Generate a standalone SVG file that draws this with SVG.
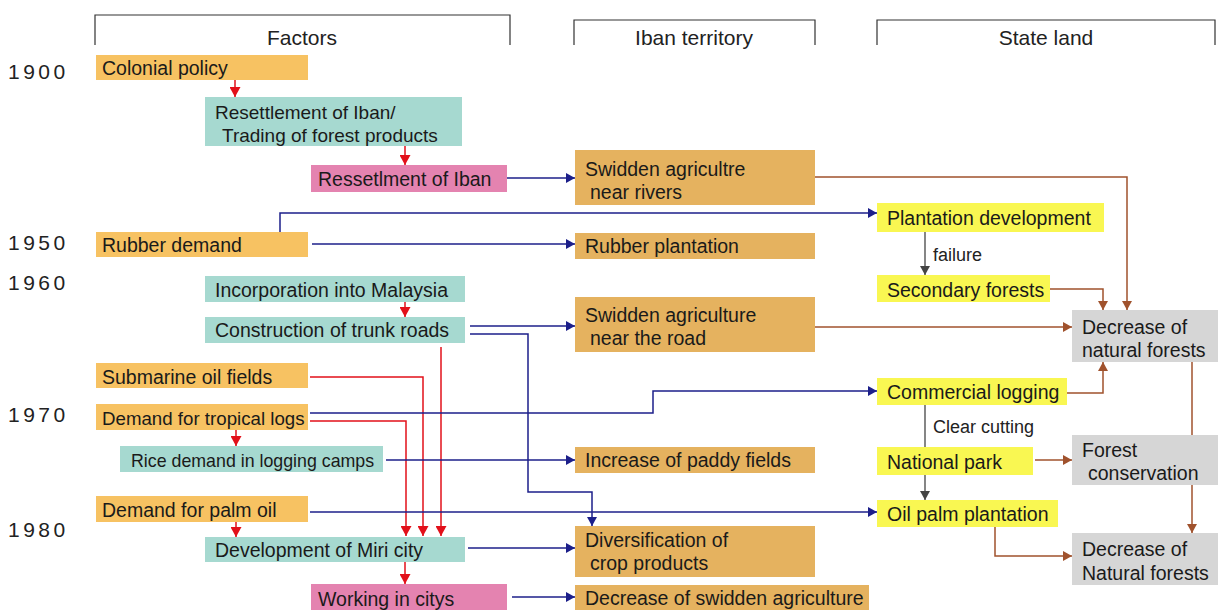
<svg xmlns="http://www.w3.org/2000/svg" width="1218" height="610" viewBox="0 0 1218 610">
<style>
text{font-family:"Liberation Sans",Arial,Helvetica,sans-serif;fill:#1a1a1a}
.t{font-size:19.5px}
.h{font-size:21px;fill:#222}
.yr{font-size:21px;letter-spacing:3.5px;fill:#222}
.lbl{font-size:18px;fill:#222}
.or{fill:#F7C262}
.te{fill:#A6D9D0}
.pk{fill:#E483B0}
.tan{fill:#E5B25F}
.ye{fill:#F9F752}
.gr{fill:#D6D6D6}
.br{fill:none;stroke:#333;stroke-width:1.2}
.red{fill:none;stroke:#E2101A;stroke-width:1.5}
.blu{fill:none;stroke:#1C1F8A;stroke-width:1.5}
.dk{fill:none;stroke:#444;stroke-width:1.3}
.brn{fill:none;stroke:#A0522D;stroke-width:1.5}
</style>
<defs>
<marker id="ar" markerUnits="userSpaceOnUse" markerWidth="11" markerHeight="11" refX="10" refY="5.5" orient="auto"><path d="M0,0 L10,5.5 L0,11 z" fill="#E2101A"/></marker>
<marker id="ab" markerUnits="userSpaceOnUse" markerWidth="10" markerHeight="10" refX="9" refY="5" orient="auto"><path d="M0,0 L9,5 L0,10 z" fill="#1C1F8A"/></marker>
<marker id="ad" markerUnits="userSpaceOnUse" markerWidth="10" markerHeight="10" refX="9" refY="5" orient="auto"><path d="M0,0 L9,5 L0,10 z" fill="#444"/></marker>
<marker id="an" markerUnits="userSpaceOnUse" markerWidth="10" markerHeight="10" refX="9" refY="5" orient="auto"><path d="M0,0 L9,5 L0,10 z" fill="#A0522D"/></marker>
</defs>

<g id="headers">
<path class="br" d="M95,45 V15 H510 V45"/>
<text class="h" x="302" y="45" text-anchor="middle">Factors</text>
<path class="br" d="M574,45 V20 H815 V45"/>
<text class="h" x="694" y="45" text-anchor="middle">Iban territory</text>
<path class="br" d="M877,45 V20 H1215 V45"/>
<text class="h" x="1046" y="45" text-anchor="middle">State land</text>
</g>

<g id="years">
<text class="yr" x="8" y="79">1900</text>
<text class="yr" x="8" y="250">1950</text>
<text class="yr" x="8" y="290">1960</text>
<text class="yr" x="8" y="422">1970</text>
<text class="yr" x="8" y="537">1980</text>
</g>

<g id="connectors">
<path class="red" marker-end="url(#ar)" d="M235,80 V97"/>
<path class="red" marker-end="url(#ar)" d="M405,146 V165"/>
<path class="red" marker-end="url(#ar)" d="M405,302 V317"/>
<path class="red" marker-end="url(#ar)" d="M236,430 V446"/>
<path class="red" marker-end="url(#ar)" d="M236,522 V537"/>
<path class="red" marker-end="url(#ar)" d="M405,562 V584"/>
<path class="red" marker-end="url(#ar)" d="M310,377 H423 V536"/>
<path class="red" marker-end="url(#ar)" d="M310,421 H406 V536"/>
<path class="red" marker-end="url(#ar)" d="M441,347 V536"/>

<path class="blu" marker-end="url(#ab)" d="M507,178 H575"/>
<path class="blu" marker-end="url(#ab)" d="M280,232 V213 H877"/>
<path class="blu" marker-end="url(#ab)" d="M312,244 H575"/>
<path class="blu" marker-end="url(#ab)" d="M470,326 H575"/>
<path class="blu" marker-end="url(#ab)" d="M470,334 H528 V492 H592 V526"/>
<path class="blu" marker-end="url(#ab)" d="M310,413 H653 V391 H877"/>
<path class="blu" marker-end="url(#ab)" d="M386,460 H575"/>
<path class="blu" marker-end="url(#ab)" d="M310,512 H877"/>
<path class="blu" marker-end="url(#ab)" d="M468,548 H575"/>
<path class="blu" marker-end="url(#ab)" d="M512,597 H575"/>

<path class="dk" marker-end="url(#ad)" d="M925,232 V275"/>
<path class="dk" marker-end="url(#ad)" d="M925,405 V500"/>

<path class="brn" marker-end="url(#an)" d="M815,177 H1127 V310"/>
<path class="brn" marker-end="url(#an)" d="M1050,289 H1103 V310"/>
<path class="brn" marker-end="url(#an)" d="M815,327 H1072"/>
<path class="brn" marker-end="url(#an)" d="M1067,393 H1103 V362"/>
<path class="brn" marker-end="url(#an)" d="M1192,362 V533"/>
<path class="brn" marker-end="url(#an)" d="M1035,460 H1072"/>
<path class="brn" marker-end="url(#an)" d="M995,527 V556 H1072"/>
<text class="lbl" x="933" y="261">failure</text>
<text class="lbl" x="933" y="433">Clear cutting</text>
</g>

<g id="colonial-policy"><rect class="or" x="96" y="55" width="212" height="25"/><text class="t" x="102" y="75">Colonial policy</text></g>
<g id="resettlement-trading"><rect class="te" x="205" y="97" width="257" height="49"/><text class="t" x="215" y="119" style="font-size:19px">Resettlement of Iban/</text><text class="t" x="222" y="142" style="font-size:19px">Trading of forest products</text></g>
<g id="ressetlment-iban"><rect class="pk" x="311" y="165" width="196" height="27"/><text class="t" x="318" y="186">Ressetlment of Iban</text></g>
<g id="rubber-demand"><rect class="or" x="96" y="232" width="212" height="25"/><text class="t" x="102" y="252">Rubber demand</text></g>
<g id="incorporation"><rect class="te" x="205" y="276" width="260" height="26"/><text class="t" x="215" y="297">Incorporation into Malaysia</text></g>
<g id="trunk-roads"><rect class="te" x="205" y="317" width="260" height="26"/><text class="t" x="215" y="337">Construction of trunk roads</text></g>
<g id="submarine-oil"><rect class="or" x="96" y="363" width="212" height="25"/><text class="t" x="102" y="384">Submarine oil fields</text></g>
<g id="tropical-logs"><rect class="or" x="96" y="404" width="212" height="26"/><text class="t" x="102" y="425" style="font-size:18.7px">Demand for tropical logs</text></g>
<g id="rice-demand"><rect class="te" x="120" y="446" width="263" height="26"/><text class="t" x="131" y="467" style="font-size:17.8px">Rice demand in logging camps</text></g>
<g id="palm-oil-demand"><rect class="or" x="96" y="496" width="212" height="26"/><text class="t" x="102" y="517">Demand for palm oil</text></g>
<g id="miri-city"><rect class="te" x="205" y="537" width="260" height="25"/><text class="t" x="215" y="557">Development of Miri city</text></g>
<g id="working-citys"><rect class="pk" x="311" y="584" width="196" height="26"/><text class="t" x="318" y="606">Working in citys</text></g>

<g id="swidden-rivers"><rect class="tan" x="575" y="150" width="240" height="55"/><text class="t" x="585" y="176">Swidden agricultre</text><text class="t" x="590" y="199">near rivers</text></g>
<g id="rubber-plantation"><rect class="tan" x="575" y="233" width="240" height="26"/><text class="t" x="585" y="253">Rubber plantation</text></g>
<g id="swidden-road"><rect class="tan" x="575" y="297" width="240" height="55"/><text class="t" x="585" y="322">Swidden agriculture</text><text class="t" x="590" y="345">near the road</text></g>
<g id="paddy-fields"><rect class="tan" x="575" y="447" width="240" height="26"/><text class="t" x="585" y="467">Increase of paddy fields</text></g>
<g id="diversification"><rect class="tan" x="575" y="526" width="240" height="51"/><text class="t" x="585" y="547">Diversification of</text><text class="t" x="590" y="570">crop products</text></g>
<g id="decrease-swidden"><rect class="tan" x="575" y="585" width="294" height="25"/><text class="t" x="585" y="605">Decrease of swidden agriculture</text></g>

<g id="plantation-development"><rect class="ye" x="877" y="203" width="227" height="29"/><text class="t" x="887" y="225">Plantation development</text></g>
<g id="secondary-forests"><rect class="ye" x="877" y="275" width="173" height="27"/><text class="t" x="887" y="297">Secondary forests</text></g>
<g id="commercial-logging"><rect class="ye" x="877" y="378" width="190" height="27"/><text class="t" x="887" y="399">Commercial logging</text></g>
<g id="national-park"><rect class="ye" x="877" y="447" width="156" height="28"/><text class="t" x="887" y="469">National park</text></g>
<g id="oil-palm-plantation"><rect class="ye" x="877" y="500" width="181" height="27"/><text class="t" x="887" y="521">Oil palm plantation</text></g>

<g id="decrease-natural-1"><rect class="gr" x="1072" y="310" width="146" height="52"/><text class="t" x="1082" y="334">Decrease of</text><text class="t" x="1082" y="357">natural forests</text></g>
<g id="forest-conservation"><rect class="gr" x="1072" y="435" width="146" height="50"/><text class="t" x="1082" y="457">Forest</text><text class="t" x="1088" y="480">conservation</text></g>
<g id="decrease-natural-2"><rect class="gr" x="1072" y="533" width="146" height="52"/><text class="t" x="1082" y="556">Decrease of</text><text class="t" x="1082" y="580">Natural forests</text></g>
</svg>
